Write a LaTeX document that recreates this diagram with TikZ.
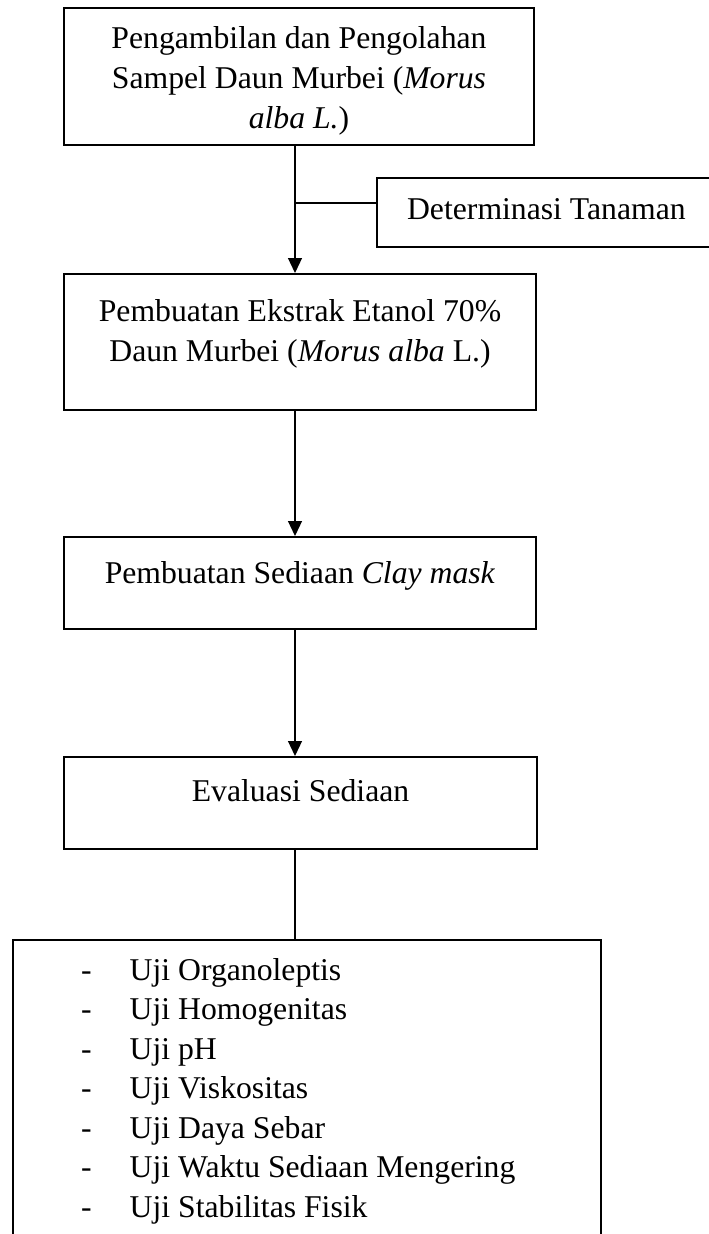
\documentclass[tikz,border=0pt]{standalone}
\usepackage{fontspec}
\setmainfont{Liberation Serif}
\usetikzlibrary{arrows.meta}
\setlength{\tabcolsep}{0pt}

\begin{document}
\begin{tikzpicture}[x=1pt, y=-1pt, >={Triangle[width=14pt,length=15pt]},
    box/.style={draw, line width=2.2pt, inner xsep=0pt, inner ysep=0pt, font=\fontsize{31.7}{40}\selectfont},
    conn/.style={line width=1.2pt},
    item/.style={anchor=base west, inner sep=0pt, font=\fontsize{31.7}{40}\selectfont}]
    \useasboundingbox (0,0) rectangle (709,1234);

    % Boxes
    \node[box, anchor=north, minimum width=470pt, text height=120pt, text depth=17pt] (ambil) at (299,7)
        {\begin{tabular}[b]{c}Pengambilan dan Pengolahan\\Sampel Daun Murbei (\textit{Morus}\\\textit{alba L.})\end{tabular}};
    \node[box, anchor=north west, inner xsep=30pt, text height=41pt, text depth=28pt] (tanaman) at (376,177)
        {Determinasi Tanaman};
    \node[box, anchor=north, minimum width=472pt, text height=87pt, text depth=49pt] (ekstrak) at (300,273)
        {\begin{tabular}[b]{c}Pembuatan Ekstrak Etanol 70\%\\Daun Murbei (\textit{Morus alba} L.)\end{tabular}};
    \node[box, anchor=north, minimum width=472pt, text height=46pt, text depth=46pt] (sediaan) at (300,536)
        {Pembuatan Sediaan \textit{Clay mask}};
    \node[box, anchor=north, minimum width=473pt, text height=44pt, text depth=48pt] (evaluasi) at (300.5,756)
        {Evaluasi Sediaan};
    \node[box, anchor=north west, minimum width=588pt, minimum height=340pt] (uji) at (12,939) {};

    % Connectors
    \coordinate (cabang) at (295,203);
    \draw[conn, ->] (ambil.south -| cabang) -- (ekstrak.north -| cabang);
    \draw[conn] (tanaman.west |- cabang) -- (cabang);
    \draw[conn, ->] (ekstrak.south -| cabang) -- (sediaan.north -| cabang);
    \draw[conn, ->] (sediaan.south -| cabang) -- (evaluasi.north -| cabang);
    \draw[conn] (evaluasi.south -| cabang) -- (uji.north -| cabang);

    % List of tests
    \foreach \t [count=\i] in {Organoleptis, Homogenitas, pH, Viskositas, Daya Sebar, Waktu Sediaan Mengering, Stabilitas Fisik} {
        \node[item] (strip\i) at (81, {940.5+39.5*\i}) {-};
        \node[item] (tes\i) at (129.5, {940.5+39.5*\i}) {Uji \t};
    }
\end{tikzpicture}
\end{document}
